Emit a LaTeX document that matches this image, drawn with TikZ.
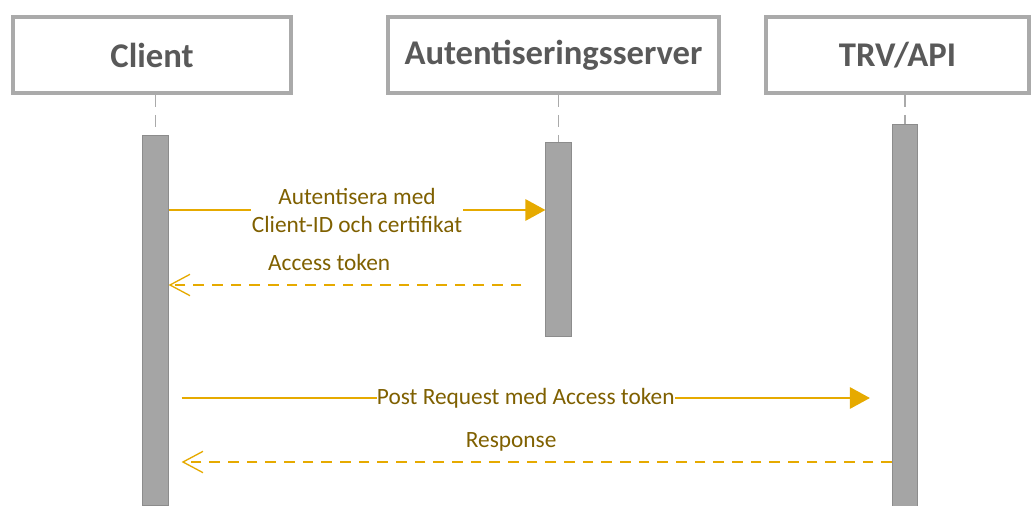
\documentclass[tikz,border=0pt]{standalone}
\usepackage{fontspec}
\setmainfont{Carlito}
\usetikzlibrary{arrows.meta,positioning}
\definecolor{boxgray}{RGB}{170,170,170}
\definecolor{bargray}{RGB}{165,165,165}
\definecolor{barline}{RGB}{140,140,140}
\definecolor{headtext}{RGB}{89,89,89}
\definecolor{msggold}{RGB}{230,170,0}
\definecolor{labelbrown}{RGB}{127,96,0}

\begin{document}
\begin{tikzpicture}[x=0.75pt,y=-0.75pt,
  actor/.style={rectangle,draw=boxgray,line width=3pt,fill=white,minimum height=57pt,text=headtext,font=\fontsize{26}{30}\selectfont\bfseries},
  bar/.style={rectangle,draw=barline,line width=0.6pt,fill=bargray,minimum width=19pt,inner sep=0pt},
  lifeline/.style={draw=boxgray,line width=1.2pt,dash pattern=on 9pt off 6pt},
  msg/.style={draw=msggold,line width=1.4pt,-{Triangle[length=15pt,width=16pt]}},
  reply/.style={draw=msggold,line width=1.4pt,dash pattern=on 8pt off 6pt,-{Straight Barb[length=15pt,width=16pt,line width=1pt]}},
  msglabel/.style={text=labelbrown,font=\fontsize{17.5}{21}\selectfont,align=center,inner sep=2pt}
]
\useasboundingbox (0,0) rectangle (1035,506);

% participants
\node[actor,minimum width=208pt] (client) at (152,55) {Client};
\node[actor,minimum width=248pt] (auth) at (553.5,55) {Autentiseringsserver};
\node[actor,minimum width=197pt] (trv) at (897.5,55) {TRV/API};

% activation bars
\node[bar,minimum height=278pt] (clientbar) at (155.5,320.5) {};
\node[bar,minimum height=145pt] (authbar) at (558.5,239.5) {};
\node[bar,minimum height=286pt] (trvbar) at (905,315.5) {};

\draw[lifeline] (client.south -| clientbar) -- (clientbar.north);
\draw[lifeline] (auth.south -| authbar) -- (authbar.north);
\draw[lifeline] (trv.south -| trvbar) -- (trvbar.north);

% message rows
\coordinate (row1) at (0,210);
\coordinate (row2) at (0,285);
\coordinate (row3) at (0,398);
\coordinate (row4) at (0,462);

\draw[msg] (clientbar.east |- row1) -- node[msglabel,fill=white,inner xsep=1pt,inner ysep=0pt] (authlabel) {Autentisera med\\Client-ID och certifikat} (authbar.west |- row1);
\draw[reply] ([xshift=-18pt]authbar.west |- row2) -- node[msglabel,pos=0.545,anchor=base,yshift=11pt] (tokenlabel) {Access token} (clientbar.east |- row2);
\draw[msg] ([xshift=9.75pt]clientbar.east |- row3) -- node[msglabel,fill=white,inner xsep=0pt,inner ysep=1pt] (postlabel) {Post Request med Access token} ([xshift=-16.5pt]trvbar.west |- row3);
\draw[reply] (trvbar.west |- row4) -- node[msglabel,pos=0.536,anchor=base,yshift=11pt] (resplabel) {Response} ([xshift=9.75pt]clientbar.east |- row4);
\end{tikzpicture}
\end{document}
